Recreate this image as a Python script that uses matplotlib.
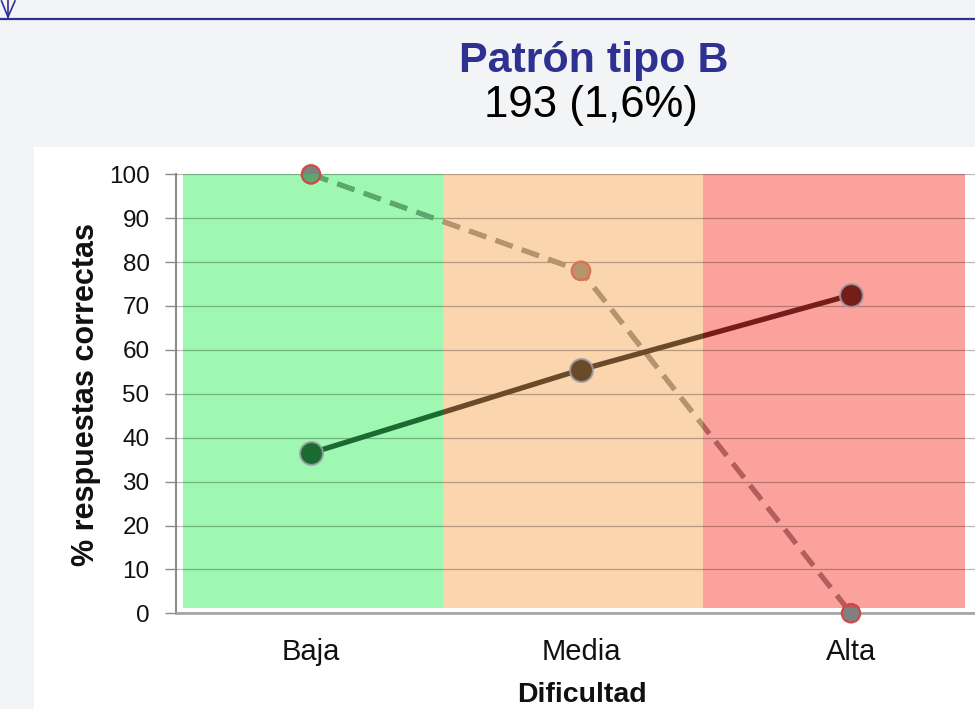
import matplotlib
matplotlib.use('Agg')
import matplotlib.pyplot as plt
from matplotlib.lines import Line2D
from matplotlib.patches import Rectangle

# ---------------- data ----------------
categories = ['Baja', 'Media', 'Alta']
serie_solida = [36.5, 55.5, 72.5]
serie_discontinua = [100, 78, 0]
yticks = [0, 10, 20, 30, 40, 50, 60, 70, 80, 90, 100]
title = 'Patrón tipo B'
subtitle = '193 (1,6%)'
xlabel = 'Dificultad'
ylabel = '% respuestas correctas'

# ---------------- style ----------------
band_edges = [-0.474, 0.489, 1.452, 2.422]
band_colors = ['#9ff8b1', '#fbd5ae', '#fca29c']
solid_colors = ['#1b6b30', '#6b4a2a', '#761c19']
dash_colors = ['#5aa86c', '#b8946c', '#b65c5a']
dash_edge = ['#d04848', '#e07050', '#d04848']

plt.rcParams['font.family'] = ['Liberation Sans', 'DejaVu Sans']

W, H = 975, 709
fig = plt.figure(figsize=(W / 100, H / 100), dpi=100)
fig.patch.set_facecolor('#f3f4f6')


def fx(px):
    return px / W


def fy(py):
    return 1 - py / H


# white chart panel
fig.add_artist(Rectangle((fx(34), 0), 1 - fx(34), fy(147), transform=fig.transFigure,
                         facecolor='white', edgecolor='none', zorder=-1))
# top slide line + arrow glyph
blue = '#2e3192'
fig.add_artist(Line2D([0, 1], [fy(19), fy(19)], transform=fig.transFigure, color=blue, lw=1.6))
fig.add_artist(Line2D([fx(8), fx(8)], [fy(0), fy(18)], transform=fig.transFigure, color=blue, lw=1.2))
fig.add_artist(Line2D([fx(1.5), fx(8), fx(15)], [fy(1), fy(17), fy(1)], transform=fig.transFigure,
                      color=blue, lw=1.2))

# axes (extends a little past the right edge, as in the screenshot)
ax = fig.add_axes([fx(176), fy(613.3), 810 / W, (613.3 - 174.3) / H])
ax.set_facecolor('none')
x = list(range(len(categories)))
ax.set_xlim(-0.5, 2.5)
ax.set_ylim(0, 100)

spans = []
for a, b, c in zip(band_edges[:-1], band_edges[1:], band_colors):
    spans.append(ax.axvspan(a, b, ymin=0.011, ymax=1, facecolor=c, edgecolor='none', zorder=1))

ax.set_axisbelow(False)
ax.yaxis.grid(True, color='black', alpha=0.27, lw=0.9, zorder=1.5)
ax.xaxis.grid(False)

# dashed series: base layer (over white) + tinted layers clipped to each band
dash_ls = (0, (3.6, 2.0))
ax.plot(x, serie_discontinua, color='#8a8a8a', lw=3.6, ls=dash_ls, zorder=3, clip_on=False)
ax.scatter(x, serie_discontinua, s=175, facecolor='#808080', edgecolor=dash_edge, linewidths=1.5,
           zorder=3.5, clip_on=False)
for span, col in zip(spans, dash_colors):
    ln, = ax.plot(x, serie_discontinua, color=col, lw=3.6, ls=dash_ls, zorder=3.1)
    ln.set_clip_path(span)
    sc = ax.scatter(x, serie_discontinua, s=175, facecolor=col, edgecolor=dash_edge, linewidths=1.5,
                    zorder=3.6)
    sc.set_clip_path(span)

# solid series, colour changes with each band
for span, col in zip(spans, solid_colors):
    ln, = ax.plot(x, serie_solida, color=col, lw=3.8, zorder=4, marker='o', ms=16.5,
                  mfc=col, mec=(0.62, 0.62, 0.66, 0.85), mew=1.5)
    ln.set_clip_path(span)

# axes decoration
for s in ['top', 'right']:
    ax.spines[s].set_visible(False)
ax.spines['left'].set_color('#8c8c8c')
ax.spines['left'].set_linewidth(1.5)
ax.spines['bottom'].set_color('#a8a8a8')
ax.spines['bottom'].set_linewidth(2)
ax.spines['bottom'].set_zorder(2.5)

ax.set_yticks(yticks)
ax.set_xticks(x, categories)
ax.tick_params(axis='y', length=8, width=1, color='#8c8c8c', pad=11, labelsize=17.5, labelcolor='#111111')
ax.tick_params(axis='x', length=0, pad=18, labelsize=21, labelcolor='#111111')

# texts
fig.text(fx(594), fy(72), title, ha='center', va='baseline', fontsize=31, fontweight='bold',
         color=blue)
fig.text(fx(591), fy(117), subtitle, ha='center', va='baseline', fontsize=31.5, color='black')
fig.text(fx(582), fy(702), xlabel, ha='center', va='baseline', fontsize=20.5, fontweight='bold',
         color='#111111')
fig.text(fx(86), fy(394), ylabel, ha='center', va='center', rotation=90, fontsize=22,
         fontweight='bold', color='#111111')

fig.savefig('out.png', dpi=100)
